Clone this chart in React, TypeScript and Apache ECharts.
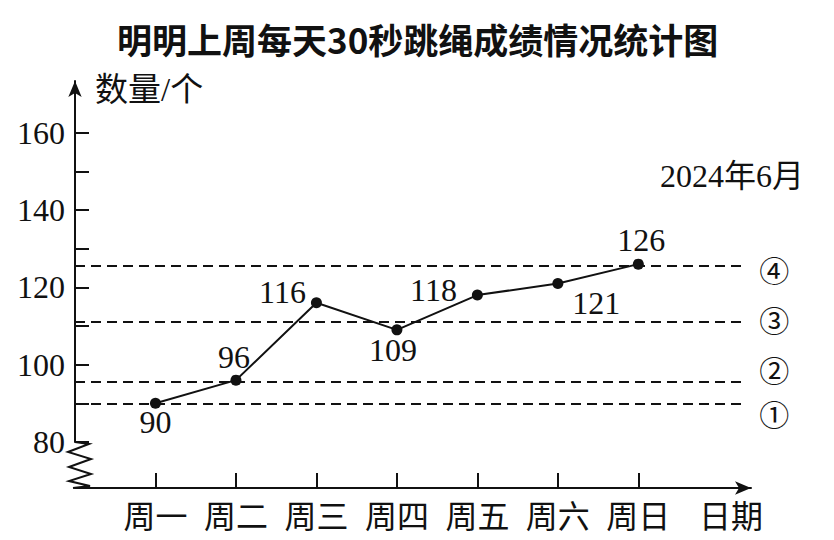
import React, { useEffect, useRef } from "react";
import * as echarts from "echarts";

// ---------- data ----------
const TITLE = "明明上周每天30秒跳绳成绩情况统计图";
const SUBTITLE = "2024年6月";
const DAYS = ["周一", "周二", "周三", "周四", "周五", "周六", "周日"];
const SCORES = [90, 96, 116, 109, 118, 121, 126];
const REF_LINES = [90, 95.5, 111, 125.5];
const REF_NAMES = ["①", "②", "③", "④"];
const Y_TICKS = [80, 90, 100, 110, 120, 130, 140, 150, 160];
const Y_LABELS = [80, 100, 120, 140, 160];
const X_NAME = "日期";
const Y_NAME = "数量/个";

// ---------- layout / style ----------
const W = 834;
const H = 540;
const AXIS_X = 75;
const X_AXIS_Y = 488;
const Y_MIN_PX = 442;
const Y_TOP_PX = 81;
const X_END_PX = 751;
const PX_PER_UNIT = (365 - 133) / 60;
const Y_MIN = 80;
const Y_MAX = Y_MIN + (Y_MIN_PX - Y_TOP_PX) / PX_PER_UNIT;
const X_MAX = 8.4;
const DASH_END = 8.28;
const INK = "#111";
const SERIF = "'Liberation Serif', 'Noto Sans CJK SC', serif";
const CJK = "'Noto Sans CJK SC', sans-serif";

const LABEL_PLACE: { pos: string; dx: number; dy: number }[] = [
  { pos: "bottom", dx: 0, dy: -8 },
  { pos: "top", dx: -2, dy: 3 },
  { pos: "left", dx: 0, dy: -11 },
  { pos: "bottom", dx: -4, dy: -6 },
  { pos: "left", dx: -10, dy: -5 },
  { pos: "right", dx: 4, dy: 20 },
  { pos: "top", dx: 3, dy: 2 },
];
const REF_LABEL_OFFSET = [
  [0, 10],
  [0, -13],
  [0, -3],
  [0, 3],
];

export default function App() {
  const ref = useRef<HTMLDivElement>(null);

  useEffect(() => {
    if (!ref.current) return;
    const chart = echarts.init(ref.current, null, { renderer: "svg" });

    const ticksX = DAYS.map((_, i) => i + 1);
    const zig = [
      [0, 0],
      [14, 2],
      [-7, 10],
      [16, 17],
      [-6, 25],
      [16, 32],
      [-6, 39],
      [15, 44],
      [-2, 46],
    ].map(([dx, dy]) => [AXIS_X + dx, Y_MIN_PX + dy * ((X_AXIS_Y - Y_MIN_PX) / 46)]);

    chart.setOption({
      animation: false,
      backgroundColor: "#fff",
      title: [
        {
          text: TITLE,
          left: 112,
          top: 16,
          textStyle: { fontSize: 35, fontWeight: "bold", fontFamily: CJK, color: INK },
        },
        {
          text: SUBTITLE,
          left: 655,
          top: 155,
          textStyle: { fontSize: 32, fontWeight: "normal", fontFamily: SERIF, color: INK },
        },
      ],
      grid: {
        left: AXIS_X,
        right: W - X_END_PX,
        top: Y_TOP_PX,
        bottom: H - Y_MIN_PX,
      },
      xAxis: {
        type: "value",
        min: 0,
        max: X_MAX,
        offset: X_AXIS_Y - Y_MIN_PX,
        splitLine: { show: false },
        axisLine: {
          show: true,
          symbol: ["none", "arrow"],
          symbolSize: [10, 16],
          lineStyle: { color: INK, width: 2 },
        },
        axisTick: {
          show: true,
          inside: true,
          length: 15,
          customValues: ticksX,
          lineStyle: { color: INK, width: 2 },
        },
        axisLabel: {
          customValues: ticksX,
          formatter: (v: number) => DAYS[Math.round(v) - 1] ?? "",
          fontSize: 32,
          margin: 10,
          fontFamily: CJK,
          color: INK,
        },
        name: X_NAME,
        nameLocation: "end",
        nameGap: -52,
        nameTextStyle: {
          fontSize: 32,
          fontFamily: CJK,
          color: INK,
          align: "left",
          verticalAlign: "top",
          padding: [10, 0, 0, 0],
        },
      },
      yAxis: {
        type: "value",
        min: Y_MIN,
        max: Y_MAX,
        splitLine: { show: false },
        axisLine: {
          show: true,
          symbol: ["none", "arrow"],
          symbolSize: [10, 16],
          lineStyle: { color: INK, width: 2 },
        },
        axisTick: {
          show: true,
          inside: true,
          length: 14,
          customValues: Y_TICKS,
          lineStyle: { color: INK, width: 2 },
        },
        axisLabel: {
          customValues: Y_LABELS,
          fontSize: 32,
          margin: 10,
          fontFamily: SERIF,
          color: INK,
        },
        name: Y_NAME,
        nameLocation: "end",
        nameGap: -9,
        nameTextStyle: {
          fontSize: 33,
          fontFamily: SERIF,
          color: INK,
          align: "left",
          verticalAlign: "middle",
          padding: [0, 0, 0, 20],
        },
      },
      series: [
        {
          type: "line",
          data: SCORES.map((v, i) => ({
            value: [i + 1, v],
            label: {
              position: LABEL_PLACE[i].pos,
              offset: [LABEL_PLACE[i].dx, LABEL_PLACE[i].dy],
            },
          })),
          symbol: "circle",
          symbolSize: 11,
          itemStyle: { color: INK },
          lineStyle: { color: INK, width: 2 },
          label: {
            show: true,
            fontSize: 32,
            fontFamily: SERIF,
            color: INK,
            distance: 5,
            formatter: (p: any) => String(p.value[1]),
          },
          markLine: {
            silent: true,
            symbol: ["none", "none"],
            lineStyle: { type: [10, 6], color: INK, width: 2 },
            label: {
              show: true,
              position: "end",
              distance: 18,
              fontSize: 30,
              lineHeight: 30,
              fontFamily: CJK,
              color: INK,
              formatter: (p: any) => REF_NAMES[p.dataIndex] ?? "",
            },
            data: REF_LINES.map((v, i) => [
              { coord: [0, v], label: { offset: REF_LABEL_OFFSET[i] } },
              { coord: [DASH_END, v] },
            ]),
          },
        },
      ],
      graphic: [
        {
          type: "polyline",
          shape: { points: zig },
          style: { stroke: INK, lineWidth: 2, fill: "none" },
          silent: true,
        },
      ],
    });

    return () => chart.dispose();
  }, []);

  return (
    <div
      ref={ref}
      style={{ position: "absolute", left: 0, top: 0, width: W, height: H }}
    />
  );
}
